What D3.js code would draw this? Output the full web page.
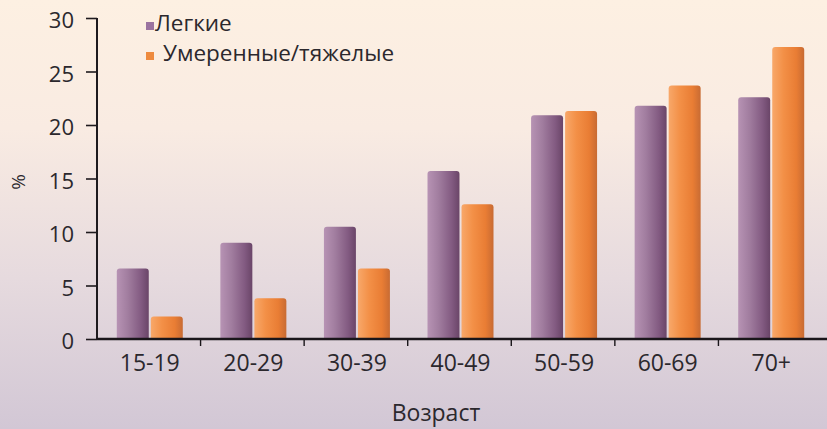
<!DOCTYPE html>
<html>
<head>
<meta charset="utf-8">
<script src="https://cdn.jsdelivr.net/npm/d3@7"></script>
<style>
  html, body { margin: 0; padding: 0; }
  svg { display: block; }
  text { font-family: "Open Sans", sans-serif; fill: #2b282d; }
</style>
</head>
<body>
<svg id="chart" width="827" height="429"></svg>
<script>
// Age groups and share (%) of mild vs moderate/severe cases
const categories = ["15-19", "20-29", "30-39", "40-49", "50-59", "60-69", "70+"];
const mild = [6.6, 9.0, 10.5, 15.7, 20.9, 21.8, 22.6];
const severe = [2.1, 3.8, 6.6, 12.6, 21.3, 23.7, 27.3];
const seriesNames = ["Легкие", "Умеренные/тяжелые"];
const yTicks = [0, 5, 10, 15, 20, 25, 30];

(function () {
const W = 827, H = 429;
const svg = d3.select("#chart");
const defs = svg.append("defs");

// Background wash: cream at top fading to lavender at the bottom
const bg = defs.append("linearGradient").attr("id", "bg")
  .attr("x1", 0).attr("y1", 0).attr("x2", 0).attr("y2", 1);
bg.append("stop").attr("offset", "0%").attr("stop-color", "#fdf0e2");
bg.append("stop").attr("offset", "30%").attr("stop-color", "#f9ebe2");
bg.append("stop").attr("offset", "65%").attr("stop-color", "#e6dade");
bg.append("stop").attr("offset", "100%").attr("stop-color", "#d2c7d5");
svg.append("rect").attr("width", W).attr("height", H).attr("fill", "url(#bg)");

// Cylindrical shading for the bars
function barGradient(id, stops) {
  const g = defs.append("linearGradient").attr("id", id)
    .attr("x1", 0).attr("y1", 0).attr("x2", 1).attr("y2", 0);
  stops.forEach(([o, c]) => g.append("stop").attr("offset", o).attr("stop-color", c));
}
barGradient("gMild", [["0%", "#b793b4"], ["35%", "#a17d9f"], ["75%", "#835b82"], ["100%", "#6a4568"]]);
barGradient("gSevere", [["0%", "#f8a86a"], ["35%", "#f39047"], ["75%", "#e97d34"], ["100%", "#c86b33"]]);
const fills = ["url(#gMild)", "url(#gSevere)"];
const legendColors = ["#9b73a0", "#ee8a3e"];

const plotLeft = 97, plotRight = 822, plotTop = 18, plotBottom = 339;

const x0 = d3.scaleBand().domain(categories).range([plotLeft, plotRight]).padding(0);
const pairW = 66;
const x1 = d3.scaleBand().domain(seriesNames)
  .range([x0.bandwidth() / 2 - pairW / 2 + 1, x0.bandwidth() / 2 + pairW / 2 + 1])
  .paddingInner(0.06).paddingOuter(0);
const y = d3.scaleLinear().domain([0, 30]).range([plotBottom, plotTop]);

// Bars with slightly rounded tops
function barPath(x, yTop, w, yBase, r) {
  r = Math.min(r, (yBase - yTop) / 2, w / 2);
  return `M${x},${yBase}V${yTop + r}Q${x},${yTop} ${x + r},${yTop}` +
         `H${x + w - r}Q${x + w},${yTop} ${x + w},${yTop + r}V${yBase}Z`;
}

const rows = categories.map((c, i) => ({ cat: c, vals: [mild[i], severe[i]] }));
const groups = svg.append("g").selectAll("g").data(rows).join("g")
  .attr("transform", d => `translate(${x0(d.cat)},0)`);
groups.selectAll("path")
  .data(d => d.vals.map((v, k) => ({ v, k })))
  .join("path")
  .attr("d", d => barPath(x1(seriesNames[d.k]), y(d.v), x1.bandwidth(), y(0), 3))
  .attr("fill", d => fills[d.k]);

// Y axis
const yAxis = svg.append("g").attr("transform", `translate(${plotLeft},0)`)
  .call(d3.axisLeft(y).tickValues(yTicks).tickSize(11).tickPadding(12));
yAxis.select(".domain").attr("stroke", "#1e1a1e").attr("stroke-width", 2)
  .attr("d", `M0,${plotTop}V${plotBottom + 1}`);
yAxis.selectAll(".tick line").attr("stroke", "#1e1a1e").attr("stroke-width", 1.6);
yAxis.selectAll(".tick text").attr("font-size", 22).attr("dy", "0.45em")
  .style("font-family", "'Open Sans', sans-serif").style("font-weight", 500)
  .attr("fill", "#2b282d");

// X axis: ticks sit on the boundaries between age groups
const xAxis = svg.append("g").attr("transform", `translate(0,${plotBottom})`);
xAxis.append("line").attr("x1", plotLeft).attr("x2", W).attr("y1", 0).attr("y2", 0)
  .attr("stroke", "#1a161a").attr("stroke-width", 2.6);
xAxis.selectAll("line.tk").data(categories.slice(1)).join("line").attr("class", "tk")
  .attr("x1", d => x0(d)).attr("x2", d => x0(d)).attr("y1", 0).attr("y2", 7)
  .attr("stroke", "#1a161a").attr("stroke-width", 1.4);
xAxis.selectAll("text").data(categories).join("text")
  .attr("x", d => x0(d) + x0.bandwidth() / 2 + 1).attr("y", 32)
  .attr("text-anchor", "middle").attr("font-size", 23).attr("font-weight", 500).text(d => d);

// Axis titles
svg.append("text").attr("x", 436).attr("y", 421).attr("text-anchor", "middle")
  .attr("font-size", 23).attr("font-weight", 500).text("Возраст");
svg.append("text").attr("transform", "translate(25,182) rotate(-90)")
  .attr("text-anchor", "middle").attr("font-size", 19).text("%");

// Legend
const legend = svg.append("g");
const legendPos = [{ sx: 146, sy: 22, tx: 155, ty: 31 }, { sx: 146, sy: 52, tx: 163, ty: 61 }];
seriesNames.forEach((name, k) => {
  const p = legendPos[k];
  legend.append("rect").attr("x", p.sx).attr("y", p.sy).attr("width", 8).attr("height", 8)
    .attr("fill", legendColors[k]);
  legend.append("text").attr("x", p.tx).attr("y", p.ty).attr("font-size", 22.5)
    .attr("font-weight", 500).text(name);
});
})();
</script>
</body>
</html>
